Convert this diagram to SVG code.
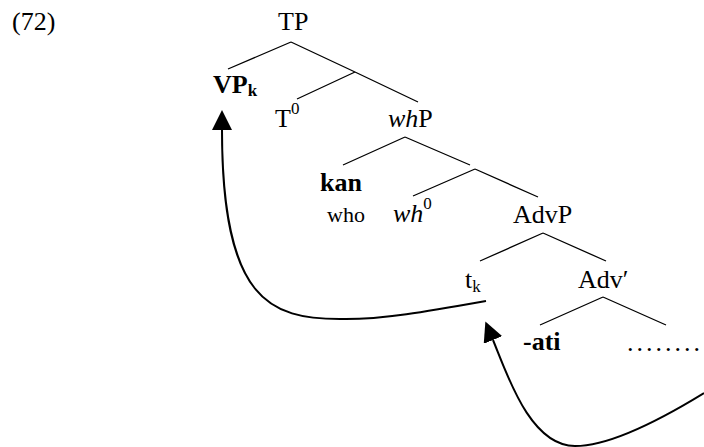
<svg xmlns="http://www.w3.org/2000/svg" width="704" height="447" viewBox="0 0 704 447">
<style>
text{font-family:"Liberation Serif","Times New Roman",serif;font-size:26px;fill:#000}
.b{font-weight:bold}
.i{font-style:italic}
.sub{font-size:17px}
.sm{font-size:22px}
.edge{stroke:#000;stroke-width:1.3;fill:none}
.mv{stroke:#000;stroke-width:2;fill:none;marker-end:url(#ah)}
</style>
<defs>
<marker id="ah" markerUnits="userSpaceOnUse" viewBox="0 -10 20 20" refX="0" refY="0" markerWidth="20" markerHeight="20" orient="auto">
<path d="M0,-10 L20,0 L0,10 z" fill="#000"/>
</marker>
</defs>
<text x="12" y="30">(72)</text>
<g id="TP"><text x="278" y="30">TP</text></g>
<g id="VPk"><text x="213" y="93" class="b">VP<tspan class="sub" dy="3">k</tspan></text></g>
<g id="T0"><text x="275" y="127">T<tspan class="sub" dy="-13">0</tspan></text></g>
<g id="whP"><text x="388" y="127"><tspan class="i">wh</tspan>P</text></g>
<g id="kan"><text x="320" y="191" class="b">kan</text><text x="327" y="222" class="sm">who</text></g>
<g id="wh0"><text x="393" y="222"><tspan class="i">wh</tspan><tspan class="sub" dy="-13">0</tspan></text></g>
<g id="AdvP"><text x="513" y="223">AdvP</text></g>
<g id="tk"><text x="465" y="288">t<tspan class="sub" dy="4">k</tspan></text></g>
<g id="Advbar"><text x="578" y="288">Adv′</text></g>
<g id="ati"><text x="523" y="350" class="b">-ati</text></g>
<g id="dots"><text x="627" y="351" letter-spacing="3">........</text></g>
<g id="connectors">
<path class="edge" d="M291,42 L228,69 M291,42 L355,72 M355,72 L297,99 M355,72 L418,102 M405,137 L343,165 M405,137 L470,165 M475,169 L413,196 M475,169 L538,197 M543,233 L480,261 M543,233 L606,261 M603,297 L540,325 M603,297 L666,325"/>
<path class="mv" d="M486,301 C430,311 380,320 340,319 C270,319 222,300 222,130"/>
<path class="mv" d="M704,393 C660,420 610,446 575,446 C530,446 507,374 493,340"/>
</g>
</svg>
